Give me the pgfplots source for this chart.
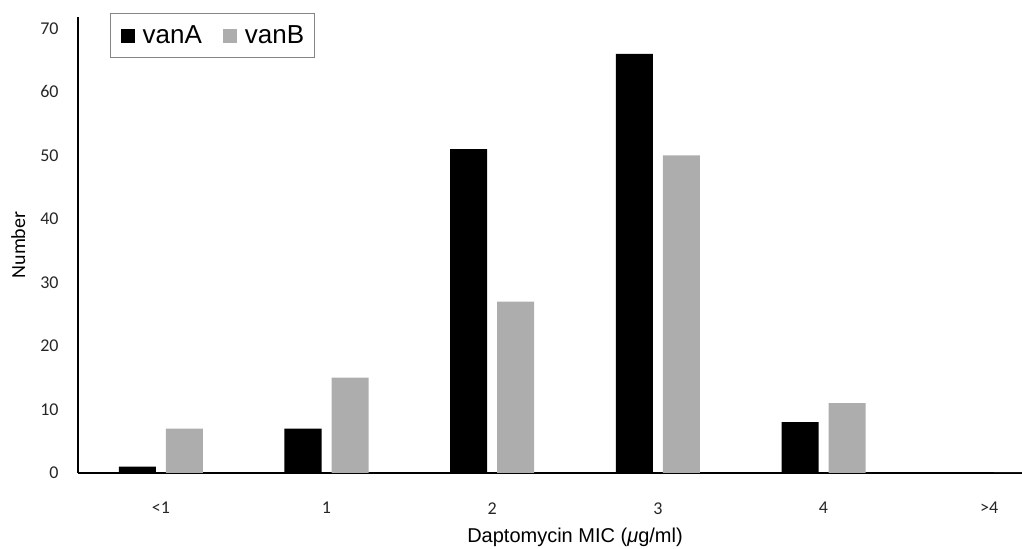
\documentclass[border=0pt]{standalone}
\usepackage{fontspec}
\setmainfont{Liberation Sans}
\newfontfamily\calfont{Carlito}
\usepackage{pgfplots}
\pgfplotsset{compat=1.18}

\definecolor{barA}{HTML}{000000}
\definecolor{barB}{HTML}{ADADAD}
\definecolor{legframe}{HTML}{858585}

\begin{document}
\begin{tikzpicture}
\begin{axis}[
    scale only axis,
    width=497pt, height=228pt,
    xmin=-0.5, xmax=5.5,
    ymin=0, ymax=71.8,
    axis lines*=left,
    axis line style={black, line width=0.9pt},
    major tick length=0pt,
    xtick=data,
    xticklabels={<1,1,2,3,4,>4},
    ytick={0,10,...,70},
    /pgf/number format/assume math mode=true,
    tick label style={font=\calfont\fontsize{9}{10}\selectfont, text=black!85},
    yticklabel style={anchor=east, inner sep=0pt, xshift=-9.5pt},
    xticklabel style={anchor=north, inner sep=0pt, yshift=-14.5pt},
    xlabel={Daptomycin MIC (\textit{μ}g/ml)},
    xlabel style={font=\fontsize{10}{12}\selectfont, at={(axis description cs:0.5,-0.1535)}, anchor=base, inner sep=0pt},
    ylabel={Number},
    ylabel style={font=\calfont\fontsize{10}{12}\selectfont, at={(axis description cs:-0.0533,0.5)}, anchor=base, inner sep=0pt},
    ybar,
    bar width=18.5pt,
    legend columns=2,
    legend image code/.code={\fill[#1] (0pt,-3.5pt) rectangle (7pt,3.5pt);},
    legend style={
        at={(axis description cs:0.0322,1)}, anchor=north west, yshift=2pt,
        draw=legframe, line width=0.7pt,
        font=\fontsize{13}{14}\selectfont,
        inner xsep=5pt, inner ysep=5.8pt,
        nodes={inner sep=0pt},
        /tikz/every odd column/.append style={column sep=4pt},
        /tikz/every even column/.append style={column sep=10.5pt},
    },
]
\addplot[fill=barA, draw=none, bar shift=-11.75pt]
    coordinates {(0,1) (1,7) (2,51) (3,66) (4,8) (5,0)};
\addplot[fill=barB, draw=none, bar shift=11.75pt]
    coordinates {(0,7) (1,15) (2,27) (3,50) (4,11) (5,0)};
\legend{vanA, vanB}
\end{axis}
\pgfresetboundingbox
\path (current axis.south west) ++(-39pt,-38pt) rectangle ++(511pt,274.5pt);
\end{tikzpicture}
\end{document}
